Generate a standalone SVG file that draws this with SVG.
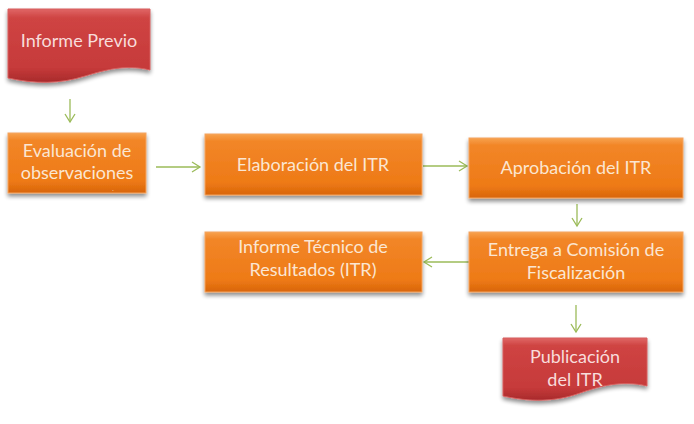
<svg xmlns="http://www.w3.org/2000/svg" width="694" height="424" viewBox="0 0 694 424">
<defs>
<linearGradient id="og" x1="0" y1="0" x2="0" y2="1">
<stop offset="0" stop-color="#F7A24E"/>
<stop offset="0.12" stop-color="#F28628"/>
<stop offset="0.8" stop-color="#EE7A16"/>
<stop offset="1" stop-color="#D8650A"/>
</linearGradient>
<linearGradient id="rg" x1="0" y1="0" x2="0" y2="1">
<stop offset="0" stop-color="#E06766"/>
<stop offset="0.12" stop-color="#CF4443"/>
<stop offset="0.8" stop-color="#C63A3A"/>
<stop offset="1" stop-color="#A82A2B"/>
</linearGradient>
<filter id="sh" x="-10%" y="-10%" width="120%" height="140%">
<feGaussianBlur in="SourceAlpha" stdDeviation="2"/>
<feOffset dx="0" dy="3" result="b"/>
<feComponentTransfer><feFuncA type="linear" slope="0.45"/></feComponentTransfer>
<feMerge><feMergeNode/><feMergeNode in="SourceGraphic"/></feMerge>
</filter>
<marker id="ah" markerWidth="12" markerHeight="12" refX="10" refY="6" orient="auto" markerUnits="userSpaceOnUse">
<path d="M2,1 L10,6 L2,11" fill="none" stroke="#9BBB59" stroke-width="1.3"/>
</marker>
</defs>
<style>
.ob{fill:url(#og);stroke:#F4A460;stroke-width:1;filter:url(#sh)}
.rb{fill:url(#rg);stroke:#D65F5E;stroke-width:1;filter:url(#sh)}
.t{font-family:Lato,"Open Sans",sans-serif;font-size:18px;fill:#FBE6D2;text-anchor:middle}
.tr{fill:#F8DCDB}
.c{stroke:#9BBB59;stroke-width:1.3;fill:none;marker-end:url(#ah)}
</style>
<g id="connectors">
<line class="c" x1="70" y1="99" x2="70" y2="122"/>
<line class="c" x1="156" y1="167" x2="200" y2="167"/>
<line class="c" x1="423" y1="166" x2="467" y2="166"/>
<line class="c" x1="577" y1="204" x2="577" y2="226"/>
<line class="c" x1="469" y1="262" x2="424" y2="262"/>
<line class="c" x1="576" y1="305" x2="576" y2="332"/>
</g>
<g id="informe-previo">
<path class="rb" d="M8,9 H150 V70 C125,64 105,70 85,76 C60,84 35,84 8,78 Z"/>
<text class="t tr" x="79" y="47">Informe Previo</text>
</g>
<g id="evaluacion">
<rect class="ob" x="8" y="133" width="138" height="60"/>
<text class="t" x="77" y="157">Evaluación de</text>
<text class="t" x="77" y="179">observaciones</text>
<text class="t" x="113" y="191" style="font-size:6px">.</text>
</g>
<g id="elaboracion">
<rect class="ob" x="205" y="134" width="217" height="61"/>
<text class="t" x="313" y="171">Elaboración del ITR</text>
</g>
<g id="aprobacion">
<rect class="ob" x="469" y="138" width="214" height="60"/>
<text class="t" x="576" y="174">Aprobación del ITR</text>
</g>
<g id="entrega">
<rect class="ob" x="469" y="232" width="214" height="60"/>
<text class="t" x="576" y="256">Entrega a Comisión de</text>
<text class="t" x="576" y="279">Fiscalización</text>
</g>
<g id="informe-tecnico">
<rect class="ob" x="205" y="232" width="217" height="60"/>
<text class="t" x="313" y="253">Informe Técnico de</text>
<text class="t" x="313" y="276">Resultados (ITR)</text>
</g>
<g id="publicacion">
<path class="rb" d="M503,338 H647 V386 C622,380 600,386 580,393 C555,402 530,402 503,396 Z"/>
<text class="t tr" x="575" y="363">Publicación</text>
<text class="t tr" x="575" y="386">del ITR</text>
</g>
</svg>
